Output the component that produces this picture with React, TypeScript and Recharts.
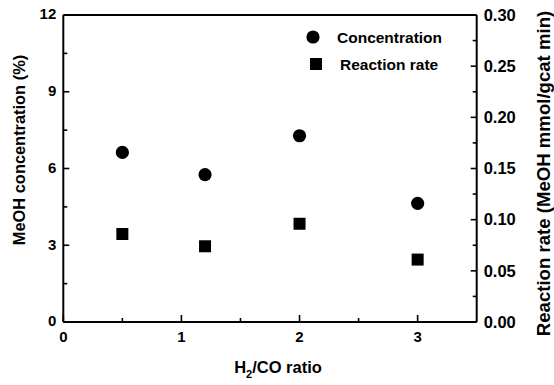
import React from 'react';
import { ScatterChart, Scatter, XAxis, YAxis, ReferenceLine } from 'recharts';

const ratios = [0.5, 1.2, 2, 3];
const concentration = [6.63, 5.76, 7.28, 4.64];
const reactionRate = [0.086, 0.074, 0.096, 0.061];

const xTicks = [0, 0.5, 1, 1.5, 2, 2.5, 3];
const leftTicks = [0, 1.5, 3, 4.5, 6, 7.5, 9, 10.5, 12];
const rightTicks = [0, 0.025, 0.05, 0.075, 0.1, 0.125, 0.15, 0.175, 0.2, 0.225, 0.25, 0.275, 0.3];

const concData = ratios.map((x, i) => ({ x, y: concentration[i] }));
const rateData = ratios.map((x, i) => ({ x, y: reactionRate[i] }));

const FONT = 'Arial, "Liberation Sans", Helvetica, sans-serif';
const MARGIN = 7;

const LeftTick = (props: any) => {
  const { x, y, payload, index } = props;
  const ax = x + MARGIN;
  const major = index % 2 === 0;
  return (
    <g>
      <line x1={ax} x2={ax + (major ? 6 : 4)} y1={y} y2={y} stroke="#000" strokeWidth={1.6} />
      {major && (
        <text x={x} y={y - 1} dy="0.35em" textAnchor="end" fontFamily={FONT} fontWeight="bold" fontSize={15} fill="#000">
          {payload.value}
        </text>
      )}
    </g>
  );
};

const RightTick = (props: any) => {
  const { x, y, payload, index } = props;
  const ax = x - MARGIN;
  const major = index % 2 === 0;
  return (
    <g>
      <line x1={ax} x2={ax - (major ? 6 : 4)} y1={y} y2={y} stroke="#000" strokeWidth={1.6} />
      {major && (
        <text x={x} y={y} dy="0.35em" textAnchor="start" fontFamily={FONT} fontWeight="bold" fontSize={16.5} fill="#000">
          {Number(payload.value).toFixed(2)}
        </text>
      )}
    </g>
  );
};

const BottomTick = (props: any) => {
  const { x, y, payload, index } = props;
  const ay = y - MARGIN;
  const major = index % 2 === 0;
  return (
    <g>
      <line x1={x} x2={x} y1={ay} y2={ay - (major ? 7 : 4)} stroke="#000" strokeWidth={1.6} />
      {major && (
        <text x={x} y={y + 13} textAnchor="middle" fontFamily={FONT} fontWeight="bold" fontSize={15} fill="#000">
          {payload.value}
        </text>
      )}
    </g>
  );
};

const LeftTitle = (props: any) => {
  const vb = props.viewBox;
  const cx = vb.x + 25;
  const cy = 150;
  return (
    <text x={cx} y={cy} transform={`rotate(-90 ${cx} ${cy})`} textAnchor="middle" fontFamily={FONT} fontWeight="bold" fontSize={16.4} fill="#000">
      MeOH concentration (%)
    </text>
  );
};

const RightTitle = (props: any) => {
  const vb = props.viewBox;
  const cx = vb.x + 73;
  const cy = 173.5;
  return (
    <text x={cx} y={cy} transform={`rotate(-90 ${cx} ${cy})`} textAnchor="middle" fontFamily={FONT} fontWeight="bold" fontSize={18.6} fill="#000">
      Reaction rate (MeOH mmol/gcat min)
    </text>
  );
};

const BottomTitle = (props: any) => {
  const vb = props.viewBox;
  const cx = vb.x + vb.width / 2 + 8;
  const cy = vb.y + 51;
  return (
    <text x={cx} y={cy} textAnchor="middle" fontFamily={FONT} fontWeight="bold" fontSize={16.5} fill="#000">
      H
      <tspan fontSize={11} dy={5}>2</tspan>
      <tspan dy={-5}>/CO ratio</tspan>
    </text>
  );
};

const CircleShape = (props: any) => <circle cx={props.cx} cy={props.cy} r={6.6} fill="#000" />;
const SquareShape = (props: any) => <rect x={props.cx - 6} y={props.cy - 6} width={12} height={12} fill="#000" />;

const LegendBox = () => (
  <svg width={180} height={60} style={{ position: 'absolute', left: 305, top: 27, overflow: 'visible' }}>
    <circle cx={8} cy={10} r={6.6} fill="#000" />
    <text x={32} y={15.5} fontFamily={FONT} fontWeight="bold" fontSize={15.5} fill="#000">Concentration</text>
    <rect x={5} y={31} width={12} height={12} fill="#000" />
    <text x={35} y={42.5} fontFamily={FONT} fontWeight="bold" fontSize={15.5} fill="#000">Reaction rate</text>
  </svg>
);

export default function App() {
  return (
    <div style={{ position: 'absolute', left: 0, top: 0, width: 554, height: 385, background: '#fff' }}>
      <ScatterChart width={554} height={385} margin={{ top: 15, right: 0, bottom: 0, left: 0 }}>
        <XAxis
          type="number"
          dataKey="x"
          domain={[0, 3.5]}
          ticks={xTicks}
          interval={0}
          height={63}
          tickSize={0}
          tickMargin={MARGIN}
          tickLine={false}
          tick={<BottomTick />}
          axisLine={{ stroke: '#000', strokeWidth: 2 }}
          label={<BottomTitle />}
        />
        <YAxis
          yAxisId="left"
          type="number"
          dataKey="y"
          domain={[0, 12]}
          ticks={leftTicks}
          interval={0}
          width={63.3}
          tickSize={0}
          tickMargin={MARGIN}
          tickLine={false}
          tick={<LeftTick />}
          axisLine={{ stroke: '#000', strokeWidth: 2 }}
          label={<LeftTitle />}
        />
        <YAxis
          yAxisId="right"
          orientation="right"
          type="number"
          dataKey="y"
          domain={[0, 0.3]}
          ticks={rightTicks}
          interval={0}
          width={77.3}
          tickSize={0}
          tickMargin={MARGIN}
          tickLine={false}
          tick={<RightTick />}
          axisLine={{ stroke: '#000', strokeWidth: 2 }}
          label={<RightTitle />}
        />
        <ReferenceLine yAxisId="left" y={12} stroke="#000" strokeWidth={2} />
        <Scatter name="Concentration" yAxisId="left" data={concData} shape={<CircleShape />} isAnimationActive={false} />
        <Scatter name="Reaction rate" yAxisId="right" data={rateData} shape={<SquareShape />} isAnimationActive={false} />
      </ScatterChart>
      <LegendBox />
    </div>
  );
}
